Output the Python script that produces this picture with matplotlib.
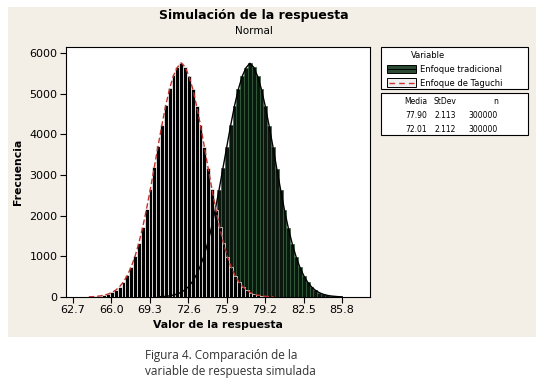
import numpy as np
import matplotlib
matplotlib.use("Agg")
import matplotlib.pyplot as plt
from matplotlib.patches import Rectangle
from matplotlib.lines import Line2D

# Histogram data (bin width ~0.33)
bin_width = 0.33
taguchi_first = 64.09
tradicional_first = 69.98
taguchi_counts = [5, 8, 16, 27, 45, 72, 112, 170, 255, 372, 530, 740, 1000, 1330, 1720,
                  2170, 2660, 3190, 3720, 4240, 4720, 5130, 5450, 5650, 5760, 5660, 5440,
                  5120, 4700, 4230, 3700, 3170, 2650, 2150, 1710, 1320, 995, 735, 528, 368,
                  252, 168, 110, 70, 44, 27, 15, 9, 5]
tradicional_counts = [4, 9, 15, 26, 44, 70, 110, 168, 250, 368, 526, 735, 990, 1315, 1700,
                      2150, 2640, 3170, 3700, 4220, 4700, 5110, 5430, 5640, 5750, 5650, 5430,
                      5110, 4690, 4210, 3690, 3150, 2630, 2130, 1690, 1310, 990, 730, 525, 365,
                      250, 167, 108, 69, 43, 26, 16, 8, 4]
xticks = [62.7, 66.0, 69.3, 72.6, 75.9, 79.2, 82.5, 85.8]
yticks = [0, 1000, 2000, 3000, 4000, 5000, 6000]
stats_header = ["Media", "StDev", "n"]
stats_rows = [["77.90", "2.113", "300000"], ["72.01", "2.112", "300000"]]

taguchi_x = taguchi_first + bin_width * np.arange(len(taguchi_counts))
tradicional_x = tradicional_first + bin_width * np.arange(len(tradicional_counts))

beige = "#F3EFE6"
green_fill = "#0a180d"
green_edge = "#36603f"


def fx(px):
    return px / 536


def fy(py):
    return 1 - py / 381


fig = plt.figure(figsize=(5.36, 3.81), dpi=100)
fig.patch.set_facecolor("white")
fig.patches.append(Rectangle((fx(8), fy(337)), 1 - fx(8), 330 / 381,
                             transform=fig.transFigure, facecolor=beige,
                             edgecolor="none", zorder=-10))

ax = fig.add_axes([fx(66), fy(297), 304 / 536, 250 / 381])
ax.set_facecolor("white")

# tradicional behind, taguchi in front
ax.bar(tradicional_x, tradicional_counts, width=bin_width, color=green_fill,
       edgecolor=green_edge, linewidth=0.5, zorder=2)
ax.bar(taguchi_x, taguchi_counts, width=bin_width, color="black",
       edgecolor="white", linewidth=0.5, zorder=3)
ax.plot(tradicional_x, tradicional_counts, color="black", lw=1.0, zorder=4)
ax.plot(taguchi_x, taguchi_counts, color="#c0302a", lw=1.0, ls=(0, (4, 2)), zorder=5)

ax.set_xlim(62.13, 88.2)
ax.set_ylim(0, 6150)
ax.set_xticks(xticks)
ax.set_xticklabels([f"{t:.1f}" for t in xticks])
ax.set_yticks(yticks)
ax.tick_params(direction="out", length=4, width=0.8, labelsize=8, pad=2)
for s in ax.spines.values():
    s.set_linewidth(0.8)

fig.text(fx(254), fy(16), "Simulación de la respuesta", ha="center", va="center",
         fontsize=9, fontweight="bold")
fig.text(fx(254), fy(31), "Normal", ha="center", va="center", fontsize=7.5)
fig.text(fx(18), fy(172), "Frecuencia", rotation=90, ha="center", va="center",
         fontsize=7.8, fontweight="bold")
fig.text(fx(218), fy(325), "Valor de la respuesta", ha="center", va="center",
         fontsize=7.8, fontweight="bold")

# legend box
fig.patches.append(Rectangle((fx(381), fy(89)), fx(147), 42 / 381, transform=fig.transFigure,
                             facecolor="white", edgecolor="black", lw=0.8))
fig.text(fx(428), fy(56), "Variable", ha="center", va="center", fontsize=6)
fig.patches.append(Rectangle((fx(387), fy(73)), fx(29), 8 / 381, transform=fig.transFigure,
                             facecolor="#2b4a32", edgecolor="black", lw=0.7))
fig.lines.append(Line2D([fx(387), fx(416)], [fy(69), fy(69)], transform=fig.transFigure,
                        color="black", lw=0.7))
fig.text(fx(420), fy(69), "Enfoque tradicional", ha="left", va="center", fontsize=6)
fig.patches.append(Rectangle((fx(387), fy(87)), fx(29), 9 / 381, transform=fig.transFigure,
                             facecolor="#f0f0f0", edgecolor="black", lw=0.7))
fig.lines.append(Line2D([fx(389), fx(414)], [fy(82.5), fy(82.5)], transform=fig.transFigure,
                        color="#d03030", lw=1.0, ls=(0, (4, 3))))
fig.text(fx(420), fy(83), "Enfoque de Taguchi", ha="left", va="center", fontsize=6)

# stats box
fig.patches.append(Rectangle((fx(381), fy(135)), fx(147), 42 / 381, transform=fig.transFigure,
                             facecolor="white", edgecolor="black", lw=0.8))
col_x = [fx(427), fx(456), fx(498)]
for cx, h in zip(col_x, stats_header):
    fig.text(cx, fy(102), h, ha="right", va="center", fontsize=5.5)
for r, row in enumerate(stats_rows):
    for cx, v in zip(col_x, row):
        fig.text(cx, fy(116 + 13 * r), v, ha="right", va="center", fontsize=5.5)

fig.text(fx(145), fy(355), "Figura 4. Comparación de la", ha="left", va="center",
         fontsize=8.5, family="Open Sans", color="#333333")
fig.text(fx(145), fy(371), "variable de respuesta simulada", ha="left", va="center",
         fontsize=8.5, family="Open Sans", color="#333333")

fig.savefig("out.png", dpi=100, facecolor=fig.get_facecolor())
